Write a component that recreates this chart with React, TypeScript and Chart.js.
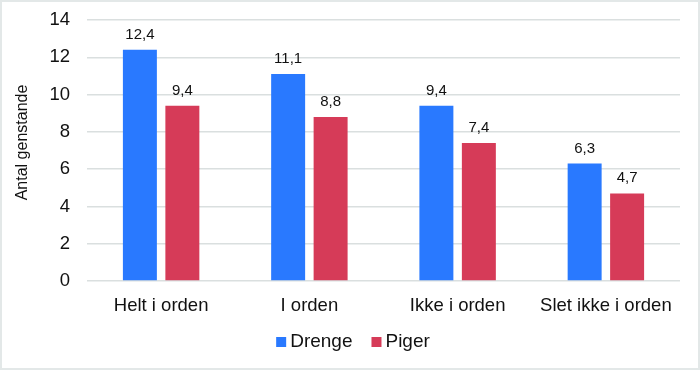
import React, { useEffect, useRef } from "react";
import { Chart, registerables } from "chart.js";

Chart.register(...registerables);

const categories = ["Helt i orden", "I orden", "Ikke i orden", "Slet ikke i orden"];
const drenge = [12.4, 11.1, 9.4, 6.3];
const piger = [9.4, 8.8, 7.4, 4.7];
const seriesNames = ["Drenge", "Piger"];
const seriesColors = ["#2979FF", "#D63B58"];
const yTitle = "Antal genstande";
const yMin = 0;
const yMax = 14;
const yStep = 2;

const FONT = "'Liberation Sans', Arial, sans-serif";
const TEXT = "#111111";

const dataLabelPlugin = {
  id: "dataLabels",
  afterDatasetsDraw(chart: any) {
    const ctx = chart.ctx;
    ctx.save();
    ctx.font = `15px ${FONT}`;
    ctx.fillStyle = TEXT;
    ctx.textAlign = "center";
    ctx.textBaseline = "alphabetic";
    chart.data.datasets.forEach((ds: any, di: number) => {
      const meta = chart.getDatasetMeta(di);
      meta.data.forEach((bar: any, i: number) => {
        const v = ds.data[i] as number;
        const label = v.toFixed(1).replace(".", ",");
        ctx.fillText(label, bar.x, bar.y - 11);
      });
    });
    ctx.restore();
  },
};

const axisTitlePlugin = {
  id: "yAxisTitle",
  afterDraw(chart: any) {
    const ctx = chart.ctx;
    ctx.save();
    ctx.font = `16px ${FONT}`;
    ctx.fillStyle = TEXT;
    ctx.textAlign = "center";
    ctx.textBaseline = "middle";
    ctx.translate(21, (chart.chartArea.top + chart.chartArea.bottom) / 2 - 8);
    ctx.rotate(-Math.PI / 2);
    ctx.fillText(yTitle, 0, 0);
    ctx.restore();
  },
};

const legendPlugin = {
  id: "customLegend",
  afterDraw(chart: any) {
    const ctx = chart.ctx;
    ctx.save();
    ctx.font = `19px ${FONT}`;
    ctx.textBaseline = "middle";
    ctx.textAlign = "left";
    const box = 10;
    const gapText = 4;
    const gapItem = 19;
    const items = chart.data.datasets.map((ds: any) => ({
      label: ds.label,
      color: ds.backgroundColor,
      w: box + gapText + ctx.measureText(ds.label).width,
    }));
    const total = items.reduce((s: number, it: any) => s + it.w, 0) + gapItem * (items.length - 1);
    let x = chart.width / 2 - total / 2 + 3;
    const y = 340;
    items.forEach((it: any) => {
      ctx.fillStyle = it.color;
      ctx.fillRect(x, y - box / 2, box, box);
      ctx.fillStyle = TEXT;
      ctx.fillText(it.label, x + box + gapText, y);
      x += it.w + gapItem;
    });
    ctx.restore();
  },
};

export default function App() {
  const ref = useRef<HTMLCanvasElement | null>(null);
  useEffect(() => {
    document.body.style.margin = "0";
    if (!ref.current) return;
    const chart = new Chart(ref.current, {
      type: "bar",
      data: {
        labels: categories,
        datasets: [
          { label: seriesNames[0], data: drenge, backgroundColor: seriesColors[0] },
          { label: seriesNames[1], data: piger, backgroundColor: seriesColors[1] },
        ],
      },
      options: {
        animation: false,
        responsive: false,
        maintainAspectRatio: false,
        layout: { padding: { top: 18, right: 18, bottom: 0, left: 0 } },
        datasets: { bar: { categoryPercentage: 0.573, barPercentage: 0.8 } },
        plugins: {
          legend: { display: false },
          tooltip: { enabled: false },
          title: { display: false },
        },
        scales: {
          x: {
            grid: { display: false },
            border: { display: false },
            ticks: { color: TEXT, font: { family: FONT, size: 18.5 }, padding: 6 },
            afterFit: (s: any) => {
              s.height = 87;
              s.paddingLeft = 0;
              s.paddingRight = 0;
            },
          },
          y: {
            min: yMin,
            max: yMax,
            grid: { color: "#dadfdf", lineWidth: 1.5, drawTicks: false },
            border: { display: false },
            ticks: {
              stepSize: yStep,
              color: TEXT,
              font: { family: FONT, size: 18.5 },
              padding: 17,
            },
            title: { display: false },
            afterFit: (s: any) => {
              s.width = 85;
              s.paddingTop = 0;
              s.paddingBottom = 0;
            },
          },
        },
      },
      plugins: [dataLabelPlugin, axisTitlePlugin, legendPlugin],
    });
    return () => chart.destroy();
  }, []);
  return (
    <div
      style={{
        width: 700,
        height: 370,
        boxSizing: "border-box",
        border: "2px solid #e3e8e8",
        background: "#fff",
      }}
    >
      <canvas ref={ref} width={696} height={366} style={{ display: "block" }} />
    </div>
  );
}
